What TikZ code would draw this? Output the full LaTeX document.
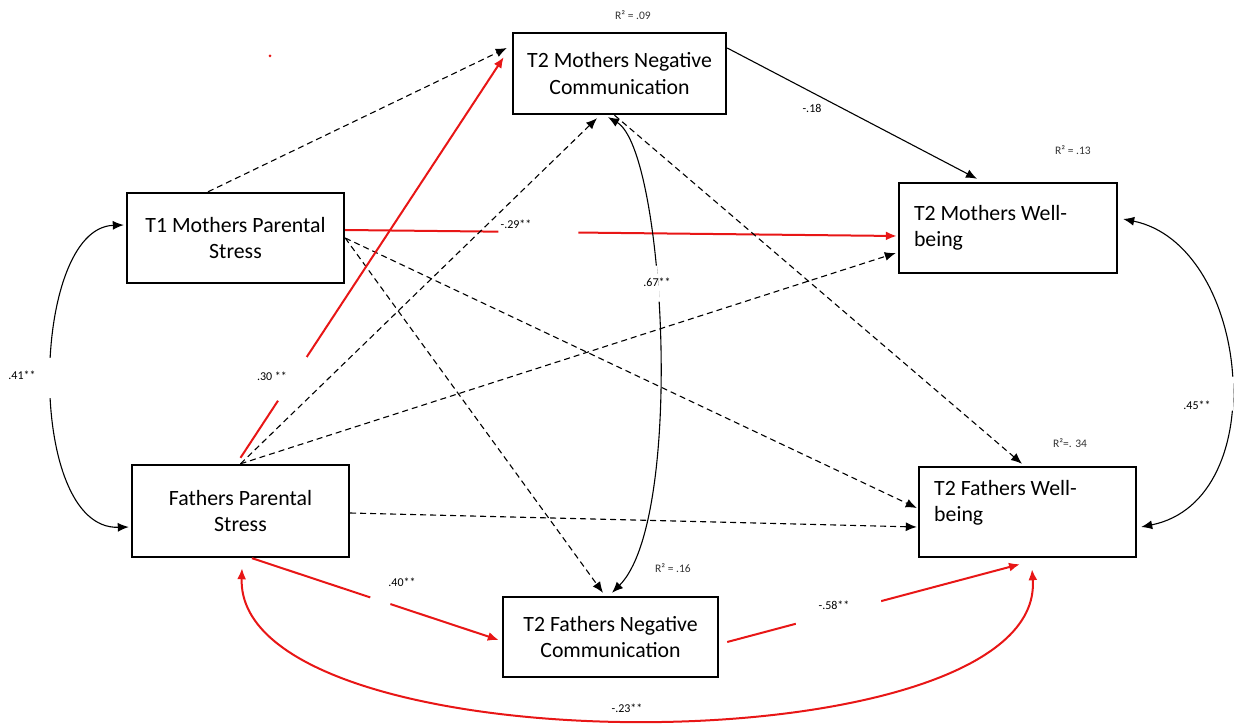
\documentclass[tikz,border=0pt]{standalone}
\usepackage{fontspec}
\setmainfont{Carlito}
\usetikzlibrary{arrows.meta,calc}
\definecolor{myred}{RGB}{232,22,22}
\begin{document}
\begin{tikzpicture}[x=1pt,y=-1pt,
 >={Latex[length=11pt,width=9pt]},
 box/.style={draw, line width=2.4pt, rectangle, inner sep=0pt, font=\fontsize{21.8}{26.5}\selectfont, align=center},
 con/.style={line width=1.1pt, ->},
 dsh/.style={con, dash pattern=on 6pt off 4pt},
 rcon/.style={draw=myred, line width=2pt, ->},
 lbl/.style={font=\fontsize{12}{14}\selectfont, text=black},
 rsq/.style={font=\fontsize{11.5}{13}\selectfont, text=black!80},
 linegap/.style={sloped, fill=white, inner sep=0pt, minimum height=6pt, minimum width=#1},
]
\useasboundingbox (0,0) rectangle (1245,727);

% boxes
\node[box, minimum width=217pt, minimum height=90pt] (t1m) at (235.5,238) {T1 Mothers Parental\\Stress};
\node[box, minimum width=217pt, minimum height=92pt] (fps) at (240.5,511) {Fathers Parental\\Stress};
\node[box, minimum width=213pt, minimum height=81pt] (mnc) at (619.5,73.5) {T2 Mothers Negative\\Communication};
\node[box, minimum width=218pt, minimum height=90pt, align=flush left, text width=188pt] (mwb) at (1008,228) {T2 Mothers Well-\\being};
\node[box, minimum width=217pt, minimum height=90pt] (fwb) at (1027.5,512) {};
\node[anchor=west, align=flush left, inner sep=0pt, font=\fontsize{21.8}{26.5}\selectfont] (fwbt) at (934,503) {T2 Fathers Well-\\being};
\node[box, minimum width=215pt, minimum height=80pt] (fnc) at (610.5,637) {T2 Fathers Negative\\Communication};

% stray dot
\fill[myred] (270,56) circle (1.5pt);

% paths from T1 mothers
\draw[dsh] ([xshift=-27.5pt]t1m.north) -- ([xshift=-5pt,yshift=25.5pt]mnc.west);
\draw[dsh] (t1m.east) -- ([xshift=-7.5pt,yshift=3pt]fnc.north);
\draw[dsh] (t1m.east) -- ([xshift=-1pt,yshift=4pt]fwb.west);
\draw[rcon] ([yshift=8pt]t1m.east) -- ([xshift=-1pt,yshift=-8pt]mwb.west) node[linegap=80pt,pos=0.35]{};
\node[lbl] (l29) at (516,224) {-.29**};

% paths from fathers
\draw[dsh] (fps.north) -- ([xshift=-22.5pt,yshift=-3pt]mnc.south);
\draw[dsh] (fps.north) -- ([xshift=-2pt,yshift=-25pt]mwb.west);
\draw[rcon] ([yshift=6pt]fps.north) -- ([xshift=-8pt,yshift=16.5pt]mnc.west) node[linegap=52pt,pos=0.197]{};
\node[lbl] (l30) at (272,376) {.30 **};
\draw[dsh] ([yshift=-2pt]fps.east) -- ([xshift=-1pt,yshift=-15pt]fwb.west);
\draw[rcon] ([xshift=11.5pt]fps.south) -- ([xshift=-3pt,yshift=-3pt]fnc.west) node[linegap=21pt,pos=0.52]{};
\node[lbl] (l40) at (402,582) {.40**};

% from mediators
\draw[dsh] ([xshift=-5pt]mnc.south) -- ([xshift=-5.5pt,yshift=2pt]fwb.north);
\draw[con] ([yshift=25.5pt]mnc.east) -- ([xshift=-31pt,yshift=3pt]mwb.north);
\node[lbl] (l18) at (812,108) {-.18};
\draw[rcon] ([xshift=8pt,yshift=-5pt]fnc.east) -- ([xshift=-7.5pt,yshift=-6pt]fwb.south) node[linegap=88pt,pos=0.38]{};
\node[lbl] (l58) at (834,605) {-.58**};

% covariances
\draw[line width=1.1pt, <->] ([xshift=-2pt,yshift=13pt]t1m.west) .. controls (30,228) and (25,530) .. ([xshift=-2pt,yshift=-16pt]fps.west) node[linegap=40pt,pos=0.5]{};
\node[lbl] (l41) at (22,375) {.41**};
\draw[line width=1.1pt, <->] ([xshift=5pt,yshift=9pt]mwb.east) .. controls (1250,245) and (1275,500) .. ([xshift=4pt,yshift=-15pt]fwb.east) node[linegap=34pt,pos=0.55]{};
\node[lbl] (l45) at (1197,405) {.45**};
\draw[line width=1.1pt, <->] ([xshift=-11.5pt,yshift=-2pt]mnc.south) .. controls (665,150) and (685,520) .. ([xshift=1.5pt,yshift=3pt]fnc.north) node[linegap=36pt,pos=0.41]{};
\node[lbl] (l67) at (657,282) {.67**};
\draw[draw=myred, line width=2pt, <->] ([xshift=1.5pt,yshift=-10pt]fps.south) .. controls (235,770) and (1047,770) .. ([xshift=4.5pt,yshift=-11pt]fwb.south);
\node[lbl] (l23) at (627,708) {-.23**};

% R squared
\node[rsq] (r09) at (633,15) {R² = .09};
\node[rsq] (r13) at (1073,150) {R² = .13};
\node[rsq] (r34) at (1070,443) {R²=. 34};
\node[rsq] (r16) at (673,568) {R² = .16};
\end{tikzpicture}
\end{document}
